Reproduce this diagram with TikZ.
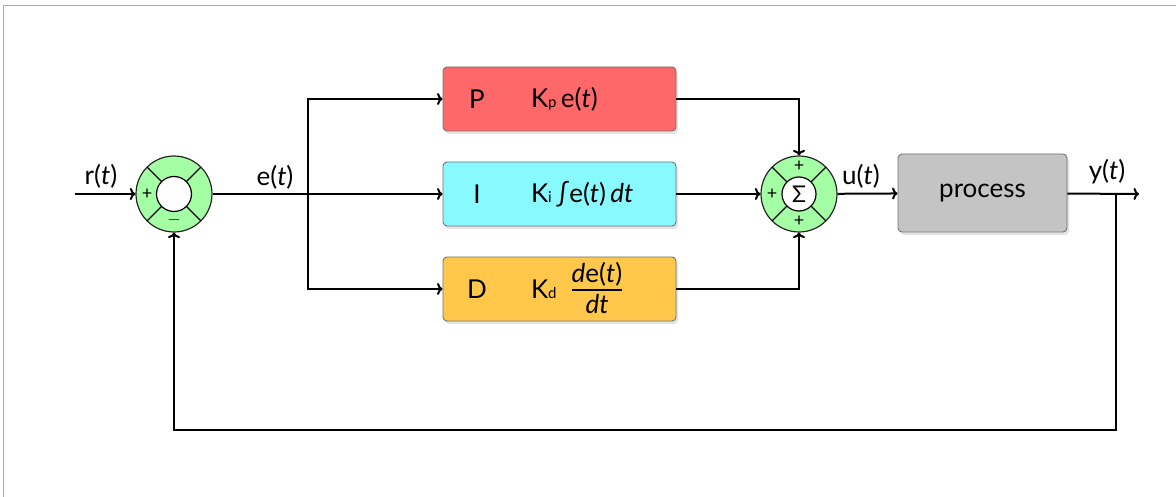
\documentclass[tikz,border=0pt]{standalone}
\usepackage{fontspec}
\setmainfont{Lato}
\usetikzlibrary{arrows.meta,shadows}
\definecolor{pcol}{RGB}{255,104,104}
\definecolor{icol}{RGB}{136,249,255}
\definecolor{dcol}{RGB}{255,200,74}
\definecolor{proccol}{RGB}{196,196,196}
\definecolor{sumgreen}{RGB}{164,255,164}
\definecolor{framegray}{RGB}{170,170,170}
\newcommand{\ti}[1]{\textit{#1}}
\newcommand{\subs}[1]{\raisebox{-0.5pt}{\fontsize{15}{15}\selectfont #1}}
\setlength{\arrayrulewidth}{1.4pt}
\begin{document}
\begin{tikzpicture}[x=1pt,y=-1pt,line width=2pt,
  every node/.style={font=\fontsize{26}{30}\selectfont, inner sep=0pt},
  arr/.style={-{To[length=5.5pt,width=12pt]}},
  blk/.style={draw=black!55, line width=0.9pt, rounded corners=4pt,
    minimum width=233pt, minimum height=64pt,
    drop shadow={opacity=0.22, shadow xshift=2pt, shadow yshift=-3pt}},
  sumc/.style={circle, draw=black!85, line width=1.2pt, fill=sumgreen, minimum size=76pt},
  sgn/.style={font=\fontsize{18}{18}\selectfont}]
\useasboundingbox (0,0) rectangle (1176,497);
% frame
\draw[framegray, line width=0.9pt] (1176,5.5) -- (3.5,5.5) -- (3.5,497);

% summing junction 1
\node[sumc] (s1) at (174,194) {};
\draw[line width=1.2pt, fill=white] (s1.center) circle[radius=17.5pt];
\foreach \a in {45,135,225,315}
  \draw[line width=1.1pt] (s1.center) ++(\a:17.5pt) -- ++(\a:20.5pt);
\node[sgn] (s1p) at ([xshift=-27pt]s1.center) {+};
\node[sgn] (s1m) at ([yshift=-26pt]s1.center) {$-$};

% summing junction 2
\node[sumc] (s2) at (799,194) {};
\draw[line width=1.2pt, fill=white] (s2.center) circle[radius=17pt];
\foreach \a in {45,135,225,315}
  \draw[line width=1.1pt] (s2.center) ++(\a:17pt) -- ++(\a:21pt);
\node[font=\fontsize{23}{23}\selectfont] (sig) at (s2.center) {Σ};
\node[sgn] (s2t) at ([yshift=28pt]s2.center) {+};
\node[sgn] (s2l) at ([xshift=-27pt]s2.center) {+};
\node[sgn] (s2b) at ([yshift=-27pt]s2.center) {+};

% blocks
\node[blk, fill=pcol] (P) at (559.5,99) {};
\node[blk, fill=icol] (I) at (559.5,194) {};
\node[blk, fill=dcol] (D) at (559.5,289) {};
\node[blk, fill=proccol, minimum width=169pt, minimum height=78pt] (proc) at (982.5,193) {process};

\node (Pl) at (477,99) {P};
\node[anchor=west] (Pk) at (530,99) {K\subs{p}\,e(\ti{t})};
\node (Il) at (477,194) {I};
\node[anchor=west] (Ik) at (530,194) {K\subs{i}\,∫e(\ti{t})\,\ti{dt}};
\node (Dl) at (477,289) {D};
\node[anchor=west] (Dk) at (530,289) {K\subs{d}};
\node (Df) at (597,292) {\begin{tabular}{@{}c@{}}\ti{d}e(\ti{t})\\[-2pt]\hline\rule{0pt}{23pt}\ti{dt}\end{tabular}};

% signal labels
\node (rl) at (101,176) {r(\ti{t})};
\node (el) at (275,177) {e(\ti{t})};
\node (ul) at (861,176) {u(\ti{t})};
\node (yl) at (1107,172) {y(\ti{t})};

% connectors
\coordinate (in) at (75,194);
\coordinate (br) at (308,194);
\coordinate (out) at (1139,194);
\coordinate (fb) at (1116,194);

\draw[arr] (in) -- (s1);
\draw[arr] (s1) -- (I);
\draw[arr] (br) |- (P);
\draw[arr] (br) |- (D);
\draw[arr] (P) -| (s2);
\draw[arr] (I) -- (s2);
\draw[arr] (D) -| (s2);
\draw[arr] (s2) -- (proc);
\draw[arr] (proc) -- (out);
% feedback with light shadow
\draw[black!25, line width=1.8pt, shift={(1.5pt,-2pt)}] (fb) -- ++(0,236) -| ([yshift=-12pt]s1.south);
\draw[arr] (fb) -- ++(0,236) -| (s1);
\end{tikzpicture}
\end{document}
